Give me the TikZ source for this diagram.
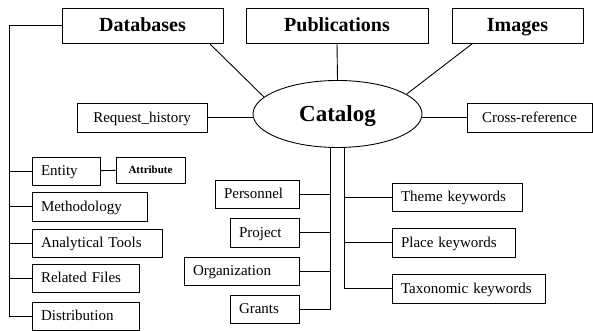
\documentclass[tikz,border=0pt]{standalone}
\usepackage{fontspec}
\setmainfont{Liberation Serif}
\usetikzlibrary{shapes.geometric}
\begin{document}
\begin{tikzpicture}[x=1pt,y=1pt,line width=0.9pt,
  box/.style={draw,inner sep=0pt,minimum height=28pt,text height=11.5pt,text depth=1.5pt,
    font=\fontsize{15}{18}\selectfont},
  lbox/.style={box,inner xsep=9pt,text width=#1,align=left},
  head/.style={draw,inner sep=0pt,minimum height=35pt,text height=15pt,text depth=2pt,
    font=\fontsize{20}{24}\selectfont\bfseries}]
\path[use as bounding box,fill=white] (0,0) rectangle (593,331);

% top row
\node[head,minimum width=161pt] (db) at (142.5,305.5) {Databases};
\node[head,minimum width=182pt] (pub) at (337,305.5) {Publications};
\node[head,minimum width=131pt] (img) at (517.5,305.5) {Images};

% centre
\node[draw,ellipse,inner sep=0pt,minimum width=169pt,minimum height=67pt,
  text height=17pt,text depth=2pt,font=\fontsize{23}{27}\selectfont\bfseries] (cat) at (337.5,217) {Catalog};
\node[box,minimum width=130pt,minimum height=29pt] (rh) at (142,213.5) {Request\_history};
\node[box,minimum width=125pt,minimum height=29pt] (cr) at (529.5,213.5) {Cross-reference};

% database branch
\node[lbox=50pt] (ent) at (66,160) {Entity};
\node[box,minimum width=69pt,minimum height=26pt,text height=8.5pt,text depth=1pt,
  font=\fontsize{11}{13}\selectfont\bfseries] (att) at (150.5,161) {Attribute};
\node[lbox=97pt,minimum height=29pt] (meth) at (89.5,124.5) {Methodology};
\node[lbox=112pt] (ana) at (97,88) {Analytical Tools};
\node[lbox=89pt] (rel) at (85.5,53) {Related Files};
\node[lbox=89pt] (dist) at (85.5,15) {Distribution};

% catalog branches
\node[lbox=66pt] (per) at (257,137) {Personnel};
\node[lbox=51pt,minimum height=29pt] (proj) at (264.5,98.5) {Project};
\node[lbox=97pt] (org) at (241.5,60) {Organization};
\node[lbox=51pt] (gr) at (264.5,22) {Grants};
\node[lbox=112pt] (thm) at (457,134) {Theme keywords};
\node[lbox=105pt,minimum height=29pt] (plc) at (453.5,88.5) {Place keywords};
\node[lbox=135pt,minimum height=29pt] (tax) at (468.5,42.5) {Taxonomic keywords};

% connectors
\draw ([xshift=-14pt]db.south east) -- (cat.167);
\draw (pub.south) -- (cat.north);
\draw ([xshift=21pt]img.south west) -- (cat.16);
\draw (rh.east) -- (rh.east -| cat.west);
\draw (cr.west) -- (cr.west -| cat.east);

\coordinate (lt) at (9,305.5);
\draw (db.west) -- (lt) |- (dist.west);
\foreach \n in {ent,meth,ana,rel}
  \draw (\n.west) -- (\n.west -| lt);
\draw (ent) -- (att);

\coordinate (ll) at ([xshift=-7pt]cat.south);
\coordinate (rl) at ([xshift=7pt]cat.south);
\draw (ll) |- (gr.east);
\foreach \n in {per,proj,org}
  \draw (\n.east) -- (\n.east -| ll);
\draw (rl) |- (tax.west);
\foreach \n in {thm,plc}
  \draw (\n.west) -- (\n.west -| rl);
\end{tikzpicture}
\end{document}
